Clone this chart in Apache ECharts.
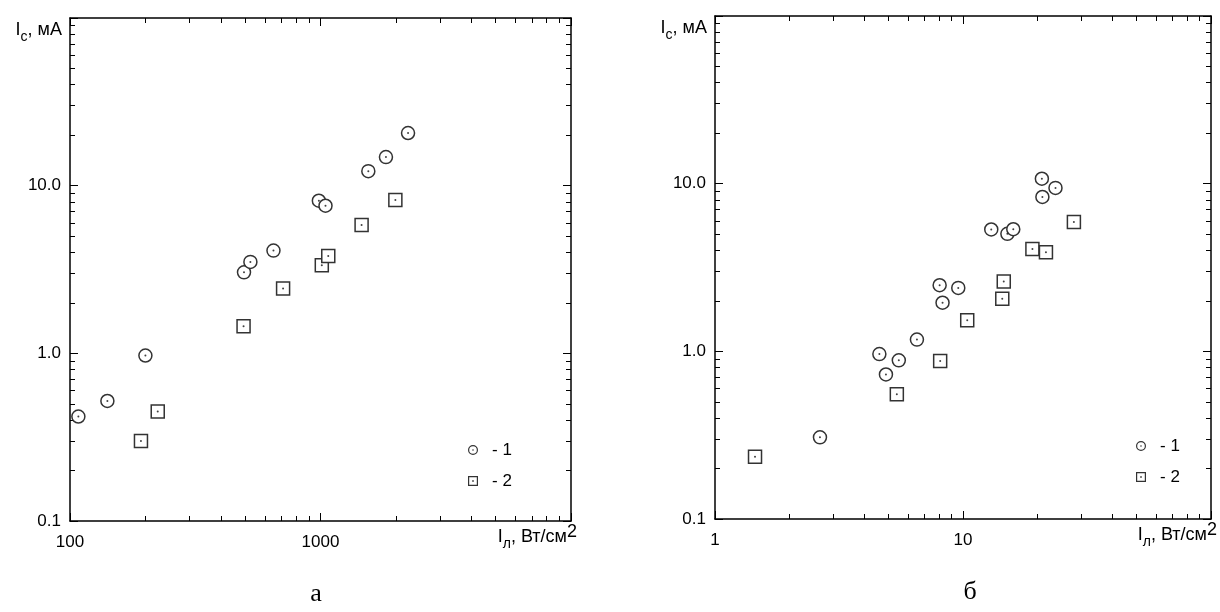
<!DOCTYPE html>
<html><head><meta charset="utf-8">
<script src="https://cdn.jsdelivr.net/npm/echarts@6/dist/echarts.min.js"></script>
<style>html,body{margin:0;padding:0;background:#fff}#c{width:1220px;height:612px}</style>
</head><body><div id="c"></div>
<script>
// ---------- data ----------
// panel "а": x = I_л (Вт/см²), y = I_с (мА)
const aSeries1 = [[108,0.42],[141,0.52],[200,0.97],[495,3.04],[525,3.51],[649,4.10],[985,8.13],[1047,7.59],[1552,12.2],[1825,14.8],[2236,20.6]];
const aSeries2 = [[192,0.30],[224,0.45],[493,1.45],[709,2.44],[1012,3.35],[1074,3.81],[1459,5.82],[1990,8.21]];
// panel "б"
const bSeries1 = [[2.65,0.307],[4.60,0.963],[4.89,0.728],[5.51,0.884],[6.52,1.175],[8.05,2.48],[8.27,1.95],[9.57,2.39],[13.0,5.33],[15.1,5.02],[15.95,5.35],[20.8,10.7],[20.9,8.33],[23.6,9.43]];
const bSeries2 = [[1.45,0.235],[5.41,0.555],[8.09,0.875],[10.4,1.53],[14.4,2.06],[14.6,2.61],[19.05,4.08],[21.6,3.90],[28.0,5.90]];

const seriesNames = ['- 1', '- 2'];

// axes ticks
const aXMajor = [100, 1000, 10000];
const aXLabels = [100, 1000];
const aXMinor = [200,300,400,500,600,700,800,900,2000,3000,4000,5000,6000,7000,8000,9000];
const bXMajor = [1, 10, 100];
const bXLabels = [1, 10];
const bXMinor = [2,3,4,5,6,7,8,9,20,30,40,50,60,70,80,90];
const yMajor = [0.1, 1, 10, 100];
const yLabels = [0.1, 1, 10];
const yMinor = [0.2,0.3,0.4,0.5,0.6,0.7,0.8,0.9,2,3,4,5,6,7,8,9,20,30,40,50,60,70,80,90];

const xName = 'I{s|л}, Вт/см{p|2}';
const yName = 'I{s|с}, мА';
const captions = ['а', 'б'];

// ---------- styles ----------
const FONT = 'Liberation Sans, Arial, sans-serif';
const INK = '#000';
const MARK = '#333';
const ringDot = 'path://M50,0 A50,50 0 1,1 50,100 A50,50 0 1,1 50,0 Z M50,12 A38,38 0 1,0 50,88 A38,38 0 1,0 50,12 Z M50,42 A8,8 0 1,1 50,58 A8,8 0 1,1 50,42 Z';
const rectDot = 'path://M0,0 L100,0 L100,100 L0,100 Z M12,12 L12,88 L88,88 L88,12 Z M42,42 L58,42 L58,58 L42,58 Z';

const richName = {
  s: {fontSize: 14, fontFamily: FONT, color: INK, verticalAlign: 'bottom', lineHeight: 28},
  p: {fontSize: 18, fontFamily: FONT, color: INK, verticalAlign: 'top', lineHeight: 28}
};

function logAxis(grid, pos, min, max, ticks, len, showLine, extra) {
  return Object.assign({
    type: 'log', logBase: 10, gridIndex: grid, position: pos, min: min, max: max,
    axisLine: {show: showLine, onZero: false, lineStyle: {color: INK, width: 1.5}},
    axisTick: {show: true, inside: true, length: len, customValues: ticks, lineStyle: {color: INK, width: 1}},
    axisLabel: {show: false},
    splitLine: {show: false},
    minorTick: {show: false},
    minorSplitLine: {show: false},
    axisPointer: {show: false},
    silent: true
  }, extra || {});
}

function xMainExtra(labels) {
  return {
    axisLabel: {show: true, customValues: labels, margin: 13, fontSize: 17, fontFamily: FONT, color: INK,
      formatter: v => String(v)},
    name: xName, nameLocation: 'end', nameGap: 6, nameMoveOverlap: false,
    nameTextStyle: {fontSize: 18, fontFamily: FONT, color: INK, align: 'right', verticalAlign: 'top',
      lineHeight: 28, padding: [2, 0, 0, 0], rich: richName}
  };
}
function yMainExtra() {
  return {
    axisLabel: {show: true, customValues: yLabels, margin: 9, fontSize: 17, fontFamily: FONT, color: INK,
      formatter: v => (+v).toFixed(1)},
    name: yName, nameLocation: 'end', nameGap: -12, nameMoveOverlap: false,
    nameTextStyle: {fontSize: 18, fontFamily: FONT, color: INK, align: 'right', verticalAlign: 'middle',
      lineHeight: 28, padding: [0, 8, 0, 0], rich: richName}
  };
}

const grids = [
  {left: 70, top: 18, width: 501, height: 503},
  {left: 715, top: 16, width: 500, height: 503}
];

const xAxes = [], yAxes = [];
[[aXMajor, aXMinor, aXLabels, 100, 10000], [bXMajor, bXMinor, bXLabels, 1, 100]].forEach((cfg, g) => {
  const [maj, mnr, lab, mn, mx] = cfg;
  xAxes.push(logAxis(g, 'bottom', mn, mx, maj, 8, true, xMainExtra(lab)));
  xAxes.push(logAxis(g, 'bottom', mn, mx, mnr, 5, false));
  xAxes.push(logAxis(g, 'top', mn, mx, maj, 8, true));
  xAxes.push(logAxis(g, 'top', mn, mx, mnr, 5, false));
  yAxes.push(logAxis(g, 'left', 0.1, 100, yMajor, 8, true, yMainExtra()));
  yAxes.push(logAxis(g, 'left', 0.1, 100, yMinor, 5, false));
  yAxes.push(logAxis(g, 'right', 0.1, 100, yMajor, 8, true));
  yAxes.push(logAxis(g, 'right', 0.1, 100, yMinor, 5, false));
});

function ring(name, data, g, shape) {
  return {type: 'scatter', name: name, data: data, xAxisIndex: g * 4, yAxisIndex: g * 4,
    symbol: shape, symbolSize: 13, silent: true,
    itemStyle: {color: '#fff', borderColor: MARK, borderWidth: 1.5, opacity: 1}};
}
function dot(name, data, g) {
  return {type: 'scatter', name: name, data: data, xAxisIndex: g * 4, yAxisIndex: g * 4,
    symbol: 'circle', symbolSize: 2, silent: true, itemStyle: {color: '#111'}};
}

const series = [
  ring(seriesNames[0], aSeries1, 0, 'circle'),
  ring(seriesNames[1], aSeries2, 0, 'rect'),
  ring(seriesNames[0], bSeries1, 1, 'circle'),
  ring(seriesNames[1], bSeries2, 1, 'rect'),
  dot(seriesNames[0], aSeries1, 0),
  dot(seriesNames[1], aSeries2, 0),
  dot(seriesNames[0], bSeries1, 1),
  dot(seriesNames[1], bSeries2, 1)
];

function legendAt(left, top) {
  return {
    orient: 'vertical', left: left, top: top, itemWidth: 10, itemHeight: 10, itemGap: 13,
    selectedMode: false,
    textStyle: {fontSize: 17, fontFamily: FONT, color: INK, lineHeight: 18, padding: [0, 0, 0, 9]},
    data: [
      {name: seriesNames[0], icon: ringDot, itemStyle: {color: MARK, borderWidth: 0}},
      {name: seriesNames[1], icon: rectDot, itemStyle: {color: MARK, borderWidth: 0}}
    ]
  };
}

const option = {
  animation: false,
  backgroundColor: '#fff',
  grid: grids,
  xAxis: xAxes,
  yAxis: yAxes,
  legend: [legendAt(463, 436), legendAt(1131, 432)],
  series: series,
  graphic: [
    {type: 'text', x: 316, y: 594, style: {text: captions[0], font: '26px "Liberation Serif", "Times New Roman", serif', fill: INK, textAlign: 'center', textVerticalAlign: 'middle'}},
    {type: 'text', x: 970, y: 592, style: {text: captions[1], font: '26px "Liberation Serif", "Times New Roman", serif', fill: INK, textAlign: 'center', textVerticalAlign: 'middle'}}
  ]
};

const chart = echarts.init(document.getElementById('c'), null, {renderer: 'canvas'});
chart.setOption(option);
</script>
</body></html>
